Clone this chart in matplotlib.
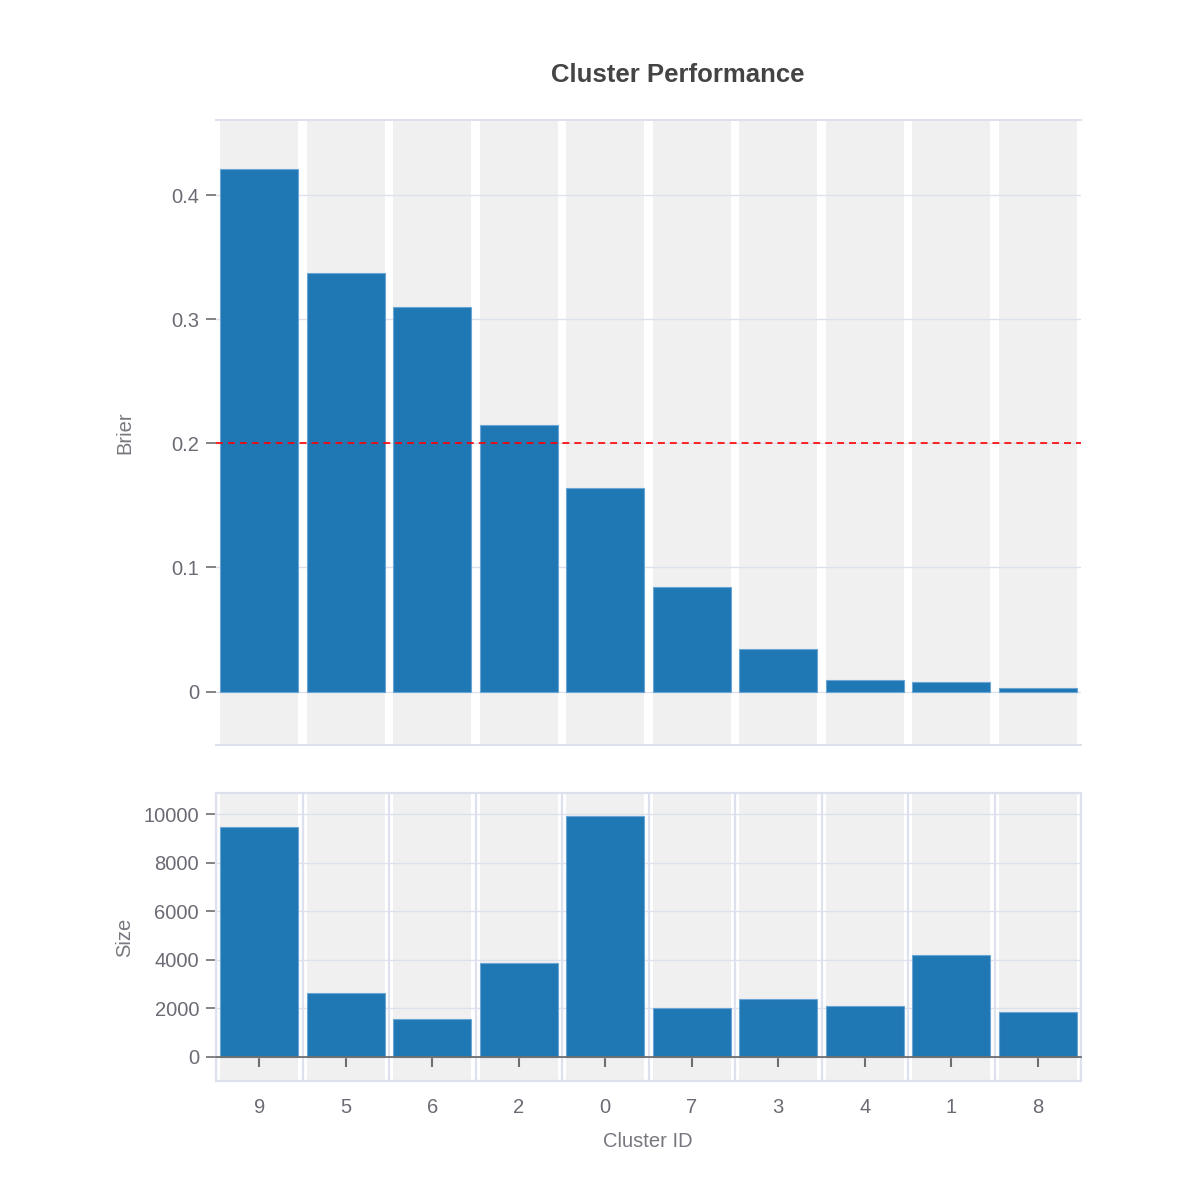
import matplotlib
matplotlib.use("Agg")
import matplotlib.pyplot as plt
from matplotlib.patches import Rectangle
from matplotlib.ticker import FuncFormatter
import numpy as np

plt.rcParams['font.family'] = ['Liberation Sans', 'DejaVu Sans']
plt.rcParams['lines.scale_dashes'] = False

# ---- data ----
clusters = ['9', '5', '6', '2', '0', '7', '3', '4', '1', '8']
brier = [0.421, 0.337, 0.310, 0.215, 0.164, 0.084, 0.034, 0.0097, 0.0081, 0.0032]
sizes = [9460, 2630, 1560, 3850, 9920, 1985, 2355, 2105, 4175, 1845]
brier_threshold = 0.2
brier_ticks = [0, 0.1, 0.2, 0.3, 0.4]
size_ticks = [0, 2000, 4000, 6000, 8000, 10000]

# ---- style ----
BAR = '#1f77b4'
BAR_EDGE = '#6aa5d6'
BAND = '#f0f0f0'
GRID = '#dde1ed'
TICKLAB = '#6b6b75'
AXTITLE = '#77777f'
TITLE = '#444444'
TICKCOL = '#6e6e6e'
FS = 14.5

fig = plt.figure(figsize=(12, 12), dpi=100)
W, H = 1200.0, 1200.0
left = 216 / W
width = 865 / W
ax1 = fig.add_axes([left, 1 - 745 / H, width, (745 - 120) / H])
ax2 = fig.add_axes([left, 1 - 1081 / H, width, (1081 - 793) / H])

x = np.arange(len(clusters))

# ---- top: Brier ----
ax1.set_xlim(-0.5, len(clusters) - 0.5)
ax1.set_ylim(-0.043, 0.4605)
for xi in x:
    ax1.axvspan(xi - 0.45, xi + 0.45, color=BAND, lw=0, zorder=0)
ax1.set_axisbelow(True)
ax1.yaxis.grid(True, color=GRID, lw=1.0)
ax1.bar(x, brier, width=0.9, color=BAR, edgecolor=BAR_EDGE, linewidth=0.8, zorder=2)
ax1.axhline(brier_threshold, color='red', lw=1.2, ls='--', dashes=(5, 3.6), zorder=3)
ax1.set_yticks(brier_ticks)
ax1.yaxis.set_major_formatter(FuncFormatter(lambda v, p: '0' if v == 0 else f'{v:g}'))
ax1.set_xticks([])
for s in ['left', 'right']:
    ax1.spines[s].set_visible(False)
for s in ['top', 'bottom']:
    ax1.spines[s].set_color(GRID)
    ax1.spines[s].set_linewidth(1.4)
ax1.tick_params(axis='y', length=7.2, width=1.2, color=TICKCOL, pad=5,
                labelsize=FS, labelcolor=TICKLAB)

# ---- bottom: Size ----
ax2.set_xlim(-0.5, len(clusters) - 0.5)
ax2.set_ylim(-1010, 10880)
for xi in x:
    ax2.axvspan(xi - 0.45, xi + 0.45, color=BAND, lw=0, zorder=0)
ax2.set_axisbelow(True)
ax2.yaxis.grid(True, color=GRID, lw=1.0)
ax2.set_xticks(np.arange(-0.5, len(clusters), 1.0), minor=True)
ax2.xaxis.grid(True, which='minor', color=GRID, lw=1.6)
ax2.bar(x, sizes, width=0.9, color=BAR, edgecolor=BAR_EDGE, linewidth=0.8, zorder=2)
ax2.set_yticks(size_ticks)
ax2.set_xticks(x)
ax2.set_xticklabels(clusters)
for s in ['left', 'right', 'top']:
    ax2.spines[s].set_visible(False)
ax2.spines['bottom'].set_position(('data', 0))
ax2.spines['bottom'].set_color(TICKCOL)
ax2.spines['bottom'].set_linewidth(1.3)
ax2.spines['bottom'].set_zorder(4)
ax2.add_patch(Rectangle((0, 0), 1, 1, transform=ax2.transAxes, fill=False,
                        edgecolor=GRID, lw=1.6, zorder=1, clip_on=False))
ax2.tick_params(axis='y', length=7.2, width=1.2, color=TICKCOL, pad=5,
                labelsize=FS, labelcolor=TICKLAB)
ax2.tick_params(axis='x', which='major', length=7, width=1.5, color=TICKCOL, pad=23,
                labelsize=FS, labelcolor=TICKLAB)
ax2.tick_params(axis='x', which='minor', length=0)

# ---- texts ----
fig.text(677.5 / W, 1 - 82 / H, 'Cluster Performance', ha='center', va='baseline',
         fontsize=18.5, fontweight='bold', color=TITLE)
fig.text(125 / W, 1 - 432.5 / H, 'Brier', rotation=90, ha='center', va='center',
         fontsize=FS, color=AXTITLE)
fig.text(125 / W, 1 - 937 / H, 'Size', rotation=90, ha='center', va='center',
         fontsize=FS, color=AXTITLE)
fig.text(648 / W, 1 - 1147 / H, 'Cluster ID', ha='center', va='baseline',
         fontsize=FS, color=AXTITLE)

fig.savefig('out.png', dpi=100, facecolor='white')
